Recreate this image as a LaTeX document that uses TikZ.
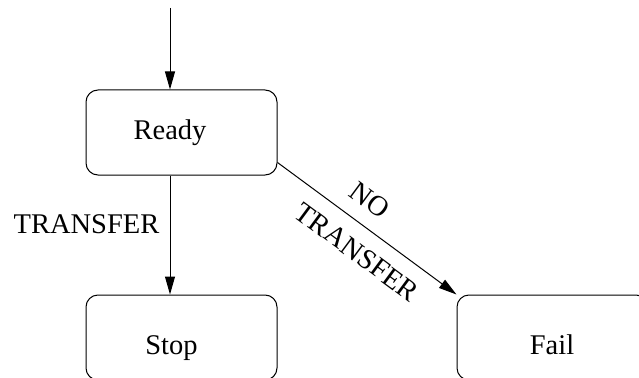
\documentclass[tikz,border=0pt]{standalone}
\usepackage{fontspec}
\setmainfont{Liberation Serif}
\usetikzlibrary{arrows.meta,calc}
\begin{document}
\begin{tikzpicture}[x=1pt,y=1pt,
  state/.style={draw,line width=1pt,rounded corners=12pt,minimum width=191pt,minimum height=85pt,inner sep=0pt},
  lbl/.style={inner sep=0pt,font=\fontsize{28.5}{34}\selectfont},
  conn/.style={line width=1pt,-{Triangle[length=18pt,width=10pt]}}]
\useasboundingbox (0,0) rectangle (639,-377);
\clip (0,0) rectangle (639,-377);
% boxes
\node[state] (ready) at (181.5,-132.5) {};
\node[state] (stop) at (181.5,-337.5) {};
\node[state] (fail) at (552.5,-337.5) {};
% texts
\node[lbl,anchor=base] (treadY) at (170,-139.5) {Ready};
\node[lbl,anchor=base] (tstop) at (171.5,-354) {Stop};
\node[lbl,anchor=base] (tfail) at (552,-354) {Fail};
\node[lbl,anchor=base] (ttransfer) at (86.5,-233) {TRANSFER};
\node[lbl,rotate=-36.5] (tno) at (370,-200) {NO};
\node[lbl,rotate=-36.5] (tnotransfer) at (357,-252) {TRANSFER};
% connectors
\coordinate (start) at (170,-8);
\coordinate (d1) at ($(ready.south east)+(0,13)$);
\draw[conn] (start) -- (start |- ready.north);
\draw[conn] (start |- ready.south) -- (start |- stop.north);
\draw[conn] (d1) -- (fail.north west);
\end{tikzpicture}
\end{document}
